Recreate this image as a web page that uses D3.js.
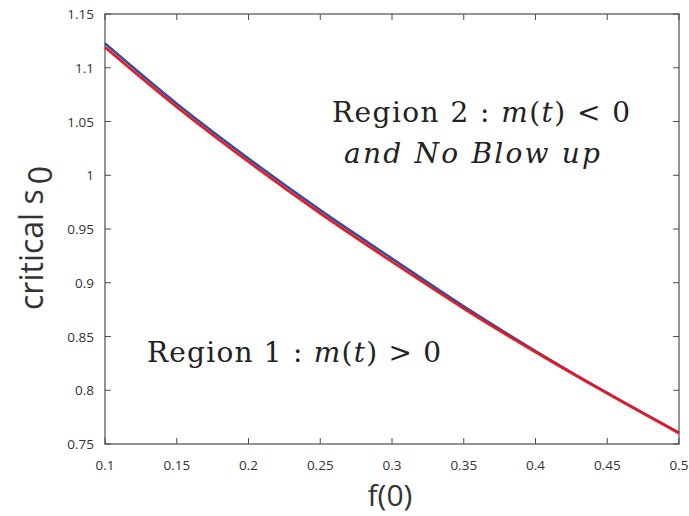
<!DOCTYPE html>
<html>
<head>
<meta charset="utf-8">
<script src="https://cdn.jsdelivr.net/npm/d3@7"></script>
<style>
  body { margin: 0; background: #fff; }
  svg { display: block; }
</style>
</head>
<body>
<div id="chart"></div>
<script>
// data
const fValues = [0.1, 0.15, 0.2, 0.25, 0.3, 0.35, 0.4, 0.45, 0.5];
const blueS0 = [1.1225, 1.0665, 1.0155, 0.9675, 0.9225, 0.8780, 0.8365, 0.7975, 0.7605];
const redS0  = [1.1190, 1.0635, 1.0125, 0.9645, 0.9195, 0.8760, 0.8355, 0.7970, 0.7600];
const xTicks = [0.1, 0.15, 0.2, 0.25, 0.3, 0.35, 0.4, 0.45, 0.5];
const yTicks = [0.75, 0.8, 0.85, 0.9, 0.95, 1, 1.05, 1.1, 1.15];

const W = 689, H = 516;
const margin = {top: 14, right: 10, bottom: 72, left: 105},
  width = 679 - margin.left,
  height = 444 - margin.top;

var svg = d3.select("#chart")
  .append("svg")
    .attr("width", W)
    .attr("height", H);

var g = svg.append("g")
  .attr("transform", "translate(" + margin.left + "," + margin.top + ")");

var x = d3.scaleLinear().domain([0.1, 0.5]).range([0, width]);
var y = d3.scaleLinear().domain([0.75, 1.15]).range([height, 0]);

const axisColor = "#4d4d4d";
const tickFont = "'Open Sans', sans-serif";

// box
g.append("rect")
  .attr("width", width)
  .attr("height", height)
  .attr("fill", "none")
  .attr("stroke", axisColor)
  .attr("stroke-width", 1.2);

// inner ticks on all four sides
const tl = 6;
xTicks.forEach(function(t) {
  g.append("line").attr("x1", x(t)).attr("x2", x(t)).attr("y1", height).attr("y2", height - tl)
    .attr("stroke", axisColor);
  g.append("line").attr("x1", x(t)).attr("x2", x(t)).attr("y1", 0).attr("y2", tl)
    .attr("stroke", axisColor);
  g.append("text")
    .attr("x", x(t)).attr("y", height + 26)
    .attr("text-anchor", "middle")
    .style("font-family", tickFont).style("font-size", "13.5px").attr("fill", "#333")
    .text(t);
});
yTicks.forEach(function(t) {
  g.append("line").attr("x1", 0).attr("x2", tl).attr("y1", y(t)).attr("y2", y(t))
    .attr("stroke", axisColor);
  g.append("line").attr("x1", width).attr("x2", width - tl).attr("y1", y(t)).attr("y2", y(t))
    .attr("stroke", axisColor);
  g.append("text")
    .attr("x", -11).attr("y", y(t) + 5)
    .attr("text-anchor", "end")
    .style("font-family", tickFont).style("font-size", "13.5px").attr("fill", "#333")
    .text(t);
});

// curves
var line = d3.line()
  .x((d, i) => x(fValues[i]))
  .y(d => y(d))
  .curve(d3.curveMonotoneX);

g.append("path").datum(blueS0)
  .attr("d", line)
  .attr("fill", "none")
  .attr("stroke", "#2f4fa2")
  .attr("stroke-width", 2.6);

g.append("path").datum(redS0)
  .attr("d", line)
  .attr("fill", "none")
  .attr("stroke", "#f0141e")
  .attr("stroke-width", 2.6);

// region annotations
const serif = "'DejaVu Serif', 'Liberation Serif', serif";
var r2 = svg.append("text")
  .attr("x", 332).attr("y", 122)
  .attr("textLength", 298).attr("lengthAdjust", "spacing")
  .style("font-family", serif).style("font-size", "28px").attr("fill", "#222");
r2.append("tspan").text("Region 2 : ");
r2.append("tspan").style("font-style", "italic").text("m");
r2.append("tspan").text("(");
r2.append("tspan").style("font-style", "italic").text("t");
r2.append("tspan").text(") < 0");

svg.append("text")
  .attr("x", 344).attr("y", 163)
  .attr("textLength", 256).attr("lengthAdjust", "spacing")
  .style("font-family", serif).style("font-size", "28px").style("font-style", "italic")
  .attr("fill", "#222")
  .text("and No Blow up");

var r1 = svg.append("text")
  .attr("x", 147).attr("y", 362)
  .attr("textLength", 294).attr("lengthAdjust", "spacing")
  .style("font-family", serif).style("font-size", "28px").attr("fill", "#222");
r1.append("tspan").text("Region 1 : ");
r1.append("tspan").style("font-style", "italic").text("m");
r1.append("tspan").text("(");
r1.append("tspan").style("font-style", "italic").text("t");
r1.append("tspan").text(") > 0");

// axis labels
svg.append("text")
  .attr("x", 390).attr("y", 506)
  .attr("text-anchor", "middle")
  .style("font-family", tickFont).style("font-size", "30px").attr("fill", "#333")
  .text("f(0)");

var yl = svg.append("text")
  .attr("transform", "translate(43,238) rotate(-90)")
  .attr("text-anchor", "middle")
  .style("font-family", tickFont).style("font-size", "32px").attr("fill", "#333");
yl.append("tspan").text("critical s");
yl.append("tspan").attr("dy", 9).attr("dx", 5).text("0");
</script>
</body>
</html>
